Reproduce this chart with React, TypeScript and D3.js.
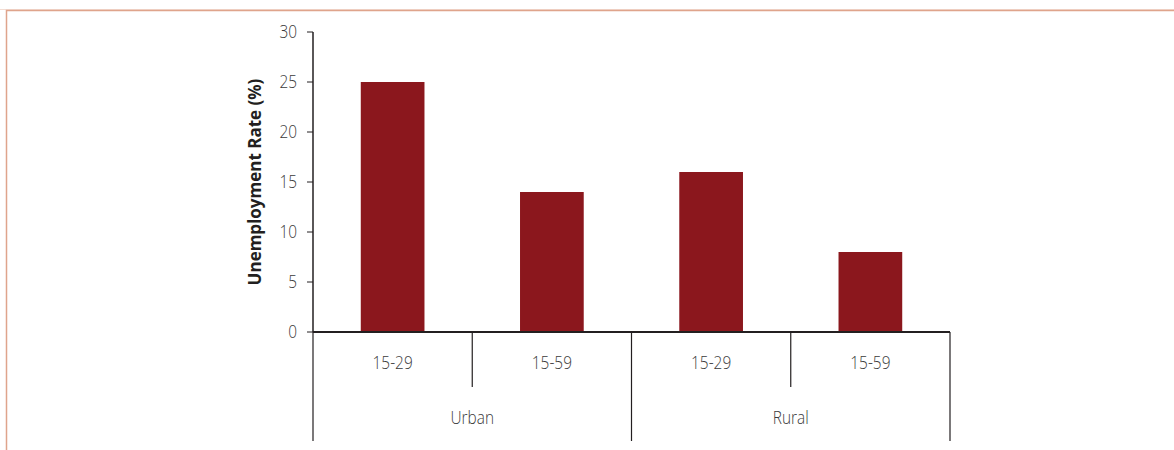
import React from "react";
import * as d3 from "d3";

const groups = ["Urban", "Rural"];
const ageBands = ["15-29", "15-59", "15-29", "15-59"];
const barGroups = ["Urban", "Urban", "Rural", "Rural"];
const rates = [25, 14, 16, 8];
const yTicks = [0, 5, 10, 15, 20, 25, 30];
const yTitle = "Unemployment Rate (%)";

const W = 1174;
const H = 450;
const BAR = "#8b171d";
const AXIS = "#231f20";
const TXT = "#3a3a3a";
const FONT = "'Open Sans', 'Noto Sans', sans-serif";
const SQ = 0.88;

function Label({ x, y, anchor, children }: { x: number; y: number; anchor: string; children: React.ReactNode }) {
  return (
    <text
      transform={`translate(${x},${y}) scale(${SQ},1)`}
      dy="0.36em"
      textAnchor={anchor}
      fontFamily={FONT}
      fontWeight={300}
      fontSize={17.5}
      fill={TXT}
    >
      {children}
    </text>
  );
}

export default function App() {
  const keys = rates.map((_, i) => `k${i}`);
  const x = d3.scaleBand<string>().domain(keys).range([313, 950]).paddingInner(0.6).paddingOuter(0.3);
  const y = d3.scaleLinear().domain([0, 30]).range([332, 32]);
  const step = x.step();
  const x0 = 313;
  const bounds = d3.range(keys.length + 1).map((i) => x0 + i * step);
  const groupStart = groups.map((g) => barGroups.indexOf(g));
  const groupCount = groups.map((g) => barGroups.filter((b) => b === g).length);

  return (
    <svg width={W} height={H} style={{ position: "absolute", left: 0, top: 0, background: "#fff" }}>
      {/* frame */}
      <line x1={0} x2={W} y1={9.5} y2={9.5} stroke="#f3ddd3" strokeWidth={1} />
      <path d={`M6.5,${H} V10.5 H${W}`} fill="none" stroke="#dfa48c" strokeWidth={1.5} />

      {/* bars */}
      {rates.map((v, i) => (
        <rect key={i} x={x(keys[i])} y={y(v)} width={x.bandwidth()} height={y(0) - y(v)} fill={BAR} />
      ))}

      {/* y axis */}
      <line x1={x0} x2={x0} y1={y(30)} y2={y(0)} stroke={AXIS} strokeWidth={1.5} />
      {yTicks.map((t) => (
        <g key={t}>
          <line x1={x0 - 6} x2={x0} y1={y(t)} y2={y(t)} stroke={AXIS} strokeWidth={1} />
          <Label x={x0 - 16} y={y(t)} anchor="end">
            {t}
          </Label>
        </g>
      ))}
      <text
        transform={`translate(255,${(y(0) + y(30)) / 2}) rotate(-90)`}
        textAnchor="middle"
        dy="0.35em"
        fontFamily={FONT}
        fontWeight={700}
        fontSize={17}
        fill="#231f20"
      >
        {yTitle}
      </text>

      {/* x axis */}
      <line x1={x0} x2={bounds[bounds.length - 1]} y1={y(0)} y2={y(0)} stroke={AXIS} strokeWidth={2} />
      {bounds.map((bx, i) => {
        const isGroupEdge = i === 0 || i === bounds.length - 1 || groupStart.includes(i);
        return (
          <line key={i} x1={bx} x2={bx} y1={y(0)} y2={isGroupEdge ? 441 : 387} stroke={AXIS} strokeWidth={1.2} />
        );
      })}
      {ageBands.map((a, i) => (
        <Label key={i} x={x(keys[i])! + x.bandwidth() / 2} y={363} anchor="middle">
          {a}
        </Label>
      ))}
      {groups.map((g, gi) => (
        <Label key={g} x={x0 + (groupStart[gi] + groupCount[gi] / 2) * step} y={418} anchor="middle">
          {g}
        </Label>
      ))}
    </svg>
  );
}
